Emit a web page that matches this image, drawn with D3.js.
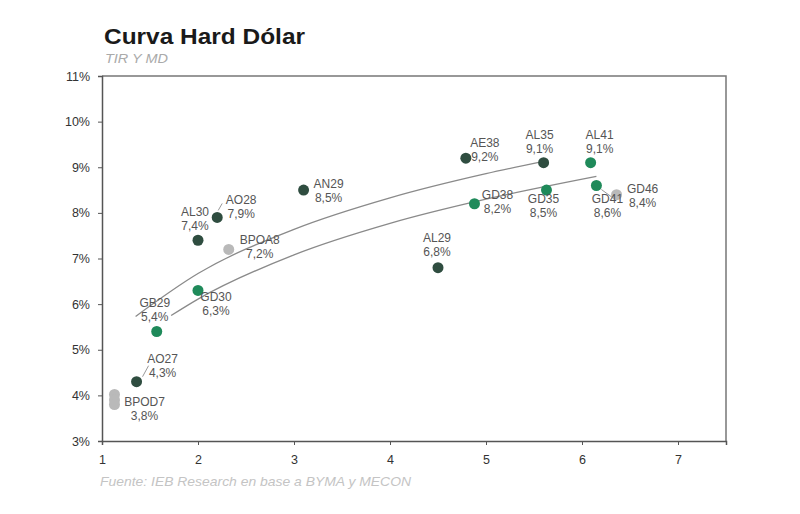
<!DOCTYPE html>
<html>
<head>
<meta charset="utf-8">
<script src="https://cdn.jsdelivr.net/npm/d3@7"></script>
<style>
  body { margin: 0; background: #fff; }
  text { font-family: "Liberation Sans", Arial, sans-serif; }
</style>
</head>
<body>
<div id="chart"></div>
<script>
// bonos: nombre, MD (x), TIR % (y), grupo
const names = ["BPOB7", "BPOC7", "BPOD7", "AO27", "GB29", "GD30", "AL30", "AO28", "BPOA8", "AN29",
  "AL29", "AE38", "GD38", "AL35", "GD35", "AL41", "GD41", "GD46"];
const md = [1.13, 1.13, 1.13, 1.36, 1.57, 2.0, 2.0, 2.2, 2.32, 3.1,
  4.5, 4.79, 4.88, 5.6, 5.63, 6.09, 6.15, 6.36];
const tir = [4.02, 3.9, 3.8, 4.3, 5.4, 6.3, 7.4, 7.9, 7.2, 8.5,
  6.8, 9.2, 8.2, 9.1, 8.5, 9.1, 8.6, 8.4];
const group = ["bcra", "bcra", "bcra", "ley_arg", "ley_ny", "ley_ny", "ley_arg", "ley_arg", "bcra", "ley_arg",
  "ley_arg", "ley_arg", "ley_ny", "ley_arg", "ley_ny", "ley_ny", "ley_ny", "bcra"];
const labeled = ["BPOD7", "AO27", "GB29", "GD30", "AL30", "AO28", "BPOA8", "AN29",
  "AL29", "AE38", "GD38", "AL35", "GD35", "AL41", "GD41", "GD46"];

// curvas de tendencia
const trendArgX = [1.35, 2, 3, 4, 5, 5.6];
const trendArgY = [5.73, 6.67, 7.64, 8.33, 8.86, 9.13];
const trendNyX = [1.72, 2, 3, 4, 5, 6.15];
const trendNyY = [5.75, 6.11, 7.08, 7.77, 8.30, 8.80];

const xTicks = [1, 2, 3, 4, 5, 6, 7];
const yTicks = [3, 4, 5, 6, 7, 8, 9, 10, 11];

const colors = { ley_arg: "#2f4d40", ley_ny: "#1f8a5a", bcra: "#b9b9b9" };

// posicion de etiquetas respecto del punto (dx, dy de la primera linea)
const labelPos = {
  BPOD7: [30, 1], AO27: [26, -19], GB29: [-2, -25], GD30: [18, 11], AL30: [-3, -24],
  AO28: [24, -13], BPOA8: [31, -5], AN29: [25, -2], AL29: [-1, -26], AE38: [19, -11],
  GD38: [23, -5], AL35: [-4, -24], GD35: [-3, 13], AL41: [9, -24], GD41: [11, 17], GD46: [26, -2]
};

const width = 800, height = 514;
const margin = { top: 76, left: 102, right: 74, bottom: 73 };

const svg = d3.select("#chart")
  .append("svg")
    .attr("width", width)
    .attr("height", height);

const x = d3.scaleLinear().domain([1, 7.5]).range([margin.left, width - margin.right]);
const y = d3.scaleLinear().domain([3, 11]).range([height - margin.bottom, margin.top]);

// titulo
svg.append("text")
  .attr("x", 104).attr("y", 44)
  .style("font-size", "22px").style("font-weight", "bold").attr("fill", "#1a1a1a")
  .attr("textLength", 201).attr("lengthAdjust", "spacingAndGlyphs")
  .text("Curva Hard Dólar");
svg.append("text")
  .attr("x", 105).attr("y", 63)
  .style("font-size", "13px").style("font-style", "italic").attr("fill", "#aaa")
  .attr("textLength", 63).attr("lengthAdjust", "spacingAndGlyphs")
  .text("TIR Y MD");

// marco superior y derecho
svg.append("path")
  .attr("d", "M" + x(1) + "," + y(11) + "H" + x(7.5) + "V" + y(3))
  .attr("fill", "none").attr("stroke", "#777").attr("stroke-width", 1.5);

const yAxis = svg.append("g")
  .attr("transform", "translate(" + x(1) + ",0)")
  .call(d3.axisLeft(y).tickValues(yTicks).tickSize(4).tickPadding(8)
    .tickFormat(d => d + "%"));
const xAxis = svg.append("g")
  .attr("transform", "translate(0," + y(3) + ")")
  .call(d3.axisBottom(x).tickValues(xTicks).tickSize(4).tickPadding(10)
    .tickFormat(d3.format("d")));

[xAxis, yAxis].forEach(a => {
  a.select(".domain").attr("stroke", "#555").attr("stroke-width", 1.5);
  a.selectAll(".tick line").attr("stroke", "#555");
  a.selectAll(".tick text").attr("fill", "#333").style("font-size", "12.5px")
    .style("font-family", "Liberation Sans, Arial, sans-serif");
});

// tendencias
const line = d3.line().x(d => x(d[0])).y(d => y(d[1])).curve(d3.curveMonotoneX);
[[trendArgX, trendArgY], [trendNyX, trendNyY]].forEach(t => {
  svg.append("path")
    .datum(d3.zip(t[0], t[1]))
    .attr("d", line)
    .attr("fill", "none").attr("stroke", "#8a8a8a").attr("stroke-width", 1.3);
});

const bonds = names.map((n, i) => ({ name: n, md: md[i], tir: tir[i], group: group[i] }));

// lineas guia
const leaders = { AO27: [[6, -5], [12, -16]], AO28: [[1, -7], [5, -14]], GD41: [[5, 4], [16, 12]] };
Object.keys(leaders).forEach(k => {
  const b = bonds.find(d => d.name === k);
  const p = leaders[k];
  svg.append("path")
    .attr("d", "M" + (x(b.md) + p[0][0]) + "," + (y(b.tir) + p[0][1]) +
      "L" + (x(b.md) + p[1][0]) + "," + (y(b.tir) + p[1][1]))
    .attr("stroke", "#999").attr("fill", "none");
});

svg.append("g")
  .selectAll("circle")
  .data(bonds)
  .enter()
  .append("circle")
    .attr("cx", d => x(d.md))
    .attr("cy", d => y(d.tir))
    .attr("r", 5.5)
    .attr("fill", d => colors[d.group]);

const labels = svg.append("g")
  .selectAll("text")
  .data(bonds.filter(d => labeled.includes(d.name)))
  .enter()
  .append("text")
    .attr("text-anchor", "middle")
    .attr("fill", "#555")
    .style("font-size", "12px")
    .attr("x", d => x(d.md) + labelPos[d.name][0])
    .attr("y", d => y(d.tir) + labelPos[d.name][1]);
labels.append("tspan").text(d => d.name);
labels.append("tspan")
  .attr("x", d => x(d.md) + labelPos[d.name][0])
  .attr("dy", 14)
  .text(d => d3.format(".1f")(d.tir).replace(".", ",") + "%");

// fuente
svg.append("text")
  .attr("x", 100).attr("y", 486)
  .style("font-size", "13.5px").style("font-style", "italic").attr("fill", "#c4c4c4")
  .attr("textLength", 311).attr("lengthAdjust", "spacingAndGlyphs")
  .text("Fuente: IEB Research en base a BYMA y MECON");
</script>
</body>
</html>
